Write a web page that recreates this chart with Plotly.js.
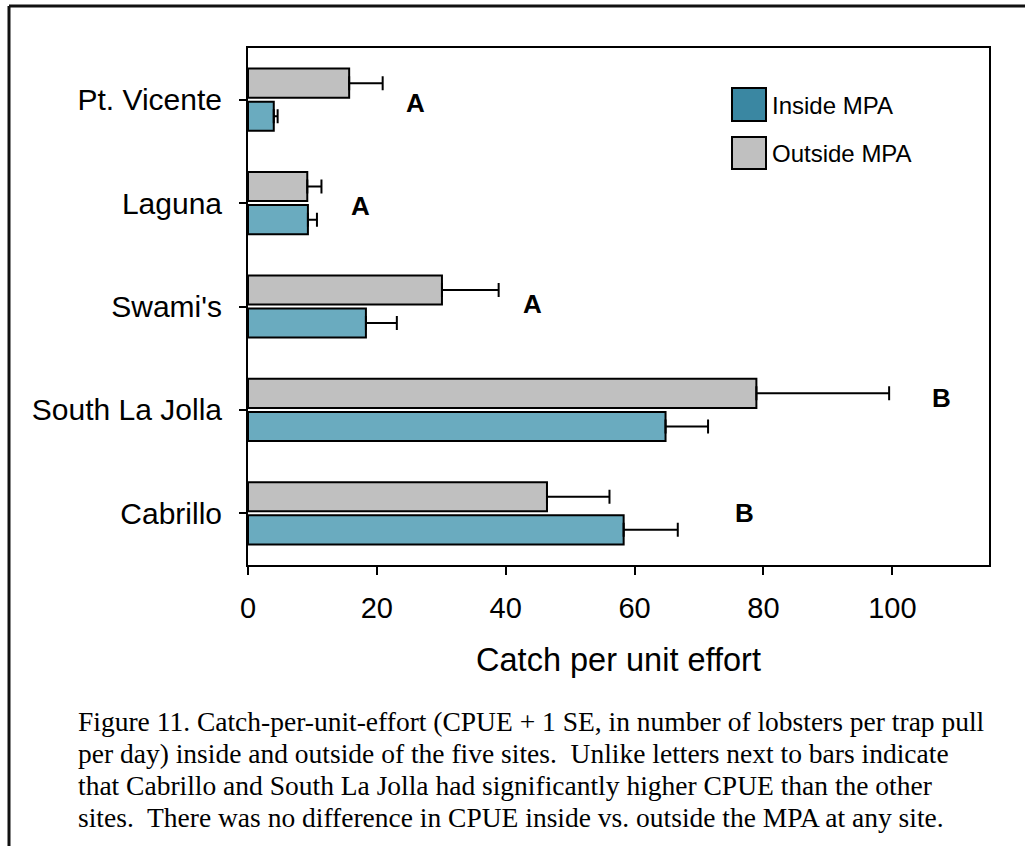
<!DOCTYPE html>
<html>
<head>
<meta charset="utf-8">
<script src="https://cdn.plot.ly/plotly-3.0.1.min.js"></script>
<style>
  html, body { margin:0; padding:0; background:#fff; }
  #plot { width:1025px; height:846px; }
</style>
</head>
<body>
<div id="plot"></div>
<script>
// --- Data ---
const sites = ['Cabrillo', 'South La Jolla', "Swami's", 'Laguna', 'Pt. Vicente'];
const insideMean = [58.3, 64.8, 18.3, 9.3, 4.0];
const insideSE   = [8.4, 6.6, 4.8, 1.4, 0.6];
const outsideMean = [46.4, 78.9, 30.1, 9.2, 15.7];
const outsideSE   = [9.7, 20.6, 8.8, 2.2, 5.2];
const groupLetters = ['B', 'B', 'A', 'A', 'A'];
const captionLines = [
  'Figure 11. Catch-per-unit-effort (CPUE + 1 SE, in number of lobsters per trap pull',
  'per day) inside and outside of the five sites.  Unlike letters next to bars indicate',
  'that Cabrillo and South La Jolla had significantly higher CPUE than the other',
  'sites.  There was no difference in CPUE inside vs. outside the MPA at any site.'
];

// --- Layout helpers (pixel -> paper) ---
const L = 248, R = 989, T = 48, B = 565;
function px(x){ return (x - L) / (R - L) }
function py(y){ return (B - y) / (B - T) }

const sans = 'Liberation Sans, Arial, sans-serif';
const serif = 'Liberation Serif, Times New Roman, serif';

const insideCol = '#6aabbf', outsideCol = '#c0c0c0';

const traces = [
  { type:'bar', orientation:'h', name:'Inside MPA', y:sites, x:insideMean,
    marker:{color:insideCol, line:{color:'#000', width:2}},
    error_x:{type:'data', symmetric:false, array:insideSE, arrayminus:insideSE.map(()=>0), color:'#000', thickness:2, width:7},
    hoverinfo:'x+name' },
  { type:'bar', orientation:'h', name:'Outside MPA', y:sites, x:outsideMean,
    marker:{color:outsideCol, line:{color:'#000', width:2}},
    error_x:{type:'data', symmetric:false, array:outsideSE, arrayminus:outsideSE.map(()=>0), color:'#000', thickness:2, width:7},
    hoverinfo:'x+name' }
];

// letter positions (x in data units, small vertical nudges in px)
const letterX = [77.1, 107.6, 44.2, 17.4, 26.0];
const letterShift = [0, 12, 3, -3, -3];

const annotations = sites.map((s,i)=>({
  x:letterX[i], y:s, xref:'x', yref:'y', text:'<b>'+groupLetters[i]+'</b>', showarrow:false,
  xanchor:'center', yanchor:'middle', yshift:letterShift[i],
  font:{family:sans, size:26, color:'#000'}
}));

// custom legend
annotations.push(
  { x:px(770), y:py(105), xref:'paper', yref:'paper', text:'Inside MPA', showarrow:false, xanchor:'left', yanchor:'middle', font:{family:sans, size:24, color:'#000'} },
  { x:px(770), y:py(153), xref:'paper', yref:'paper', text:'Outside MPA', showarrow:false, xanchor:'left', yanchor:'middle', font:{family:sans, size:24, color:'#000'} }
);

// caption
const capY = [721, 753, 785, 817];
captionLines.forEach((t,i)=>{
  annotations.push({ x:px(76), y:py(capY[i]), xref:'paper', yref:'paper', text:t, showarrow:false,
    xanchor:'left', yanchor:'middle', font:{family:serif, size:27.5, color:'#000'} });
});

const shapes = [
  // outer frame (top and left edges visible)
  { type:'line', xref:'paper', yref:'paper', x0:px(9), x1:px(1030), y0:py(6), y1:py(6), line:{color:'#111', width:3} },
  { type:'line', xref:'paper', yref:'paper', x0:px(9), x1:px(9), y0:py(6), y1:py(850), line:{color:'#111', width:3} },
  // legend swatches
  { type:'rect', xref:'paper', yref:'paper', x0:px(732), x1:px(766), y0:py(121), y1:py(88), fillcolor:'#3a87a2', line:{color:'#000', width:2} },
  { type:'rect', xref:'paper', yref:'paper', x0:px(732), x1:px(766), y0:py(169), y1:py(137), fillcolor:outsideCol, line:{color:'#000', width:2} }
];

const layout = {
  width:1025, height:846,
  margin:{l:L, r:1025-R, t:T, b:846-B},
  paper_bgcolor:'#fff', plot_bgcolor:'#fff',
  barmode:'group', bargap:0.36, bargroupgap:0.12,
  showlegend:false,
  xaxis:{
    range:[0,115], dtick:20, tick0:0, showgrid:false, zeroline:false,
    showline:true, linecolor:'#000', linewidth:2, mirror:true,
    ticks:'outside', ticklen:8, tickwidth:2, tickcolor:'#000', ticklabelstandoff:8,
    tickfont:{family:sans, size:29, color:'#000'},
    title:{text:'Catch per unit effort', font:{family:sans, size:32.5, color:'#000'}, standoff:25}
  },
  yaxis:{
    type:'category', categoryorder:'array', categoryarray:sites,
    showgrid:false, zeroline:false,
    showline:true, linecolor:'#000', linewidth:2, mirror:true,
    ticks:'outside', ticklen:7, tickwidth:2, tickcolor:'#000', ticklabelstandoff:11,
    tickfont:{family:sans, size:30, color:'#000'}
  },
  annotations, shapes
};

Plotly.newPlot('plot', traces, layout, {displayModeBar:false, staticPlot:true});
</script>
</body>
</html>
